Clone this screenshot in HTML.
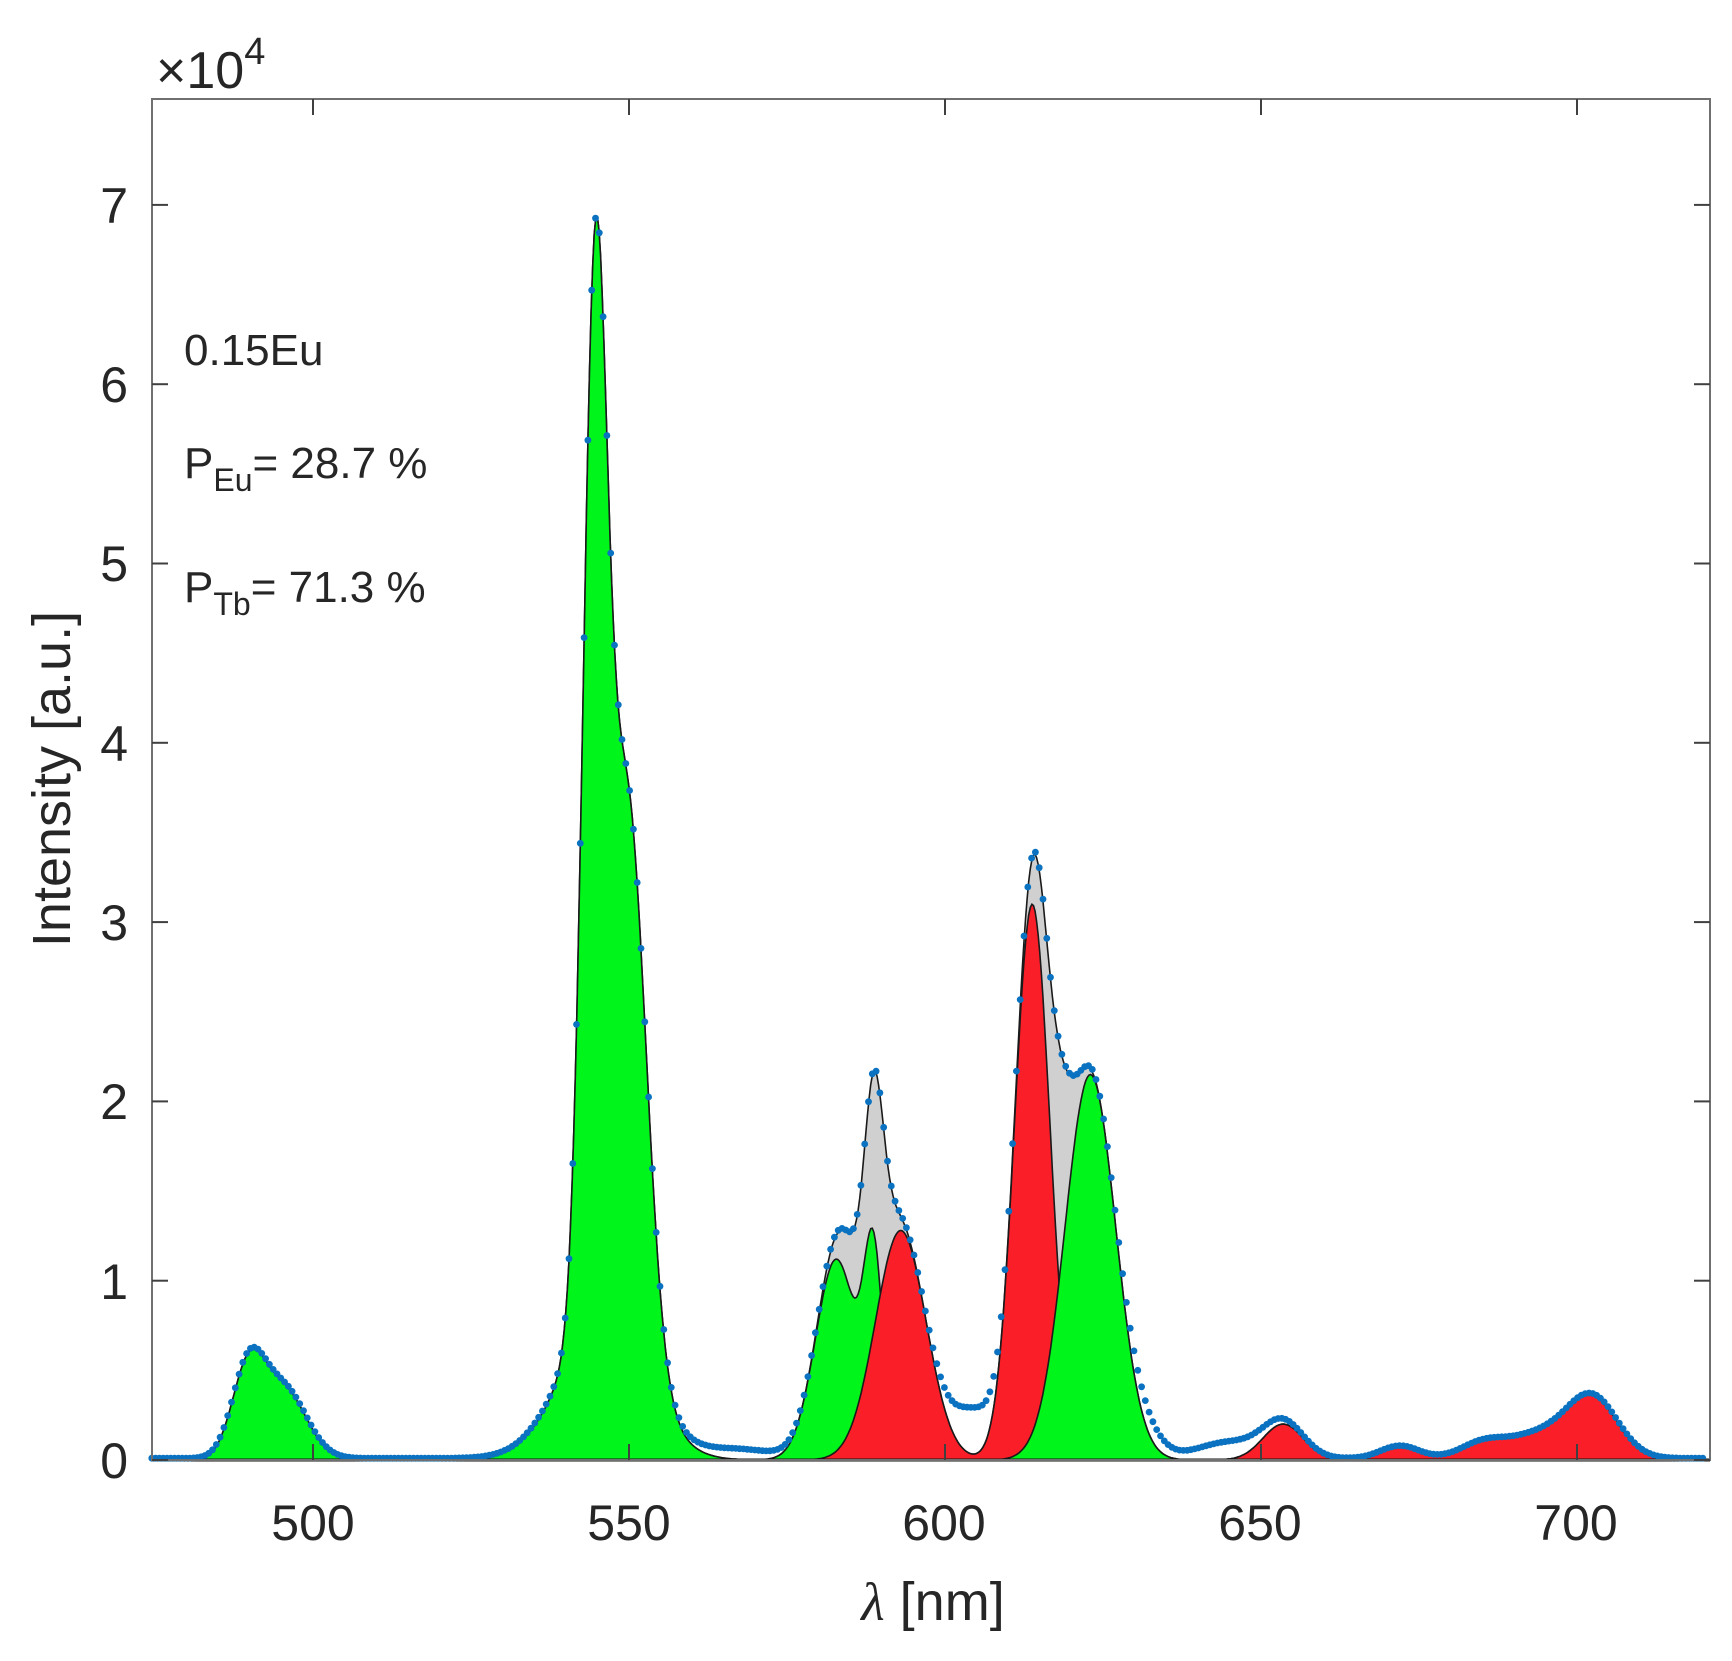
<!DOCTYPE html>
<html><head><meta charset="utf-8"><style>
html,body{margin:0;padding:0;background:#fff;}
svg{display:block;}
text{font-family:"Liberation Sans",Arial,sans-serif;fill:#262626;}
</style></head><body>
<svg id="s" width="1732" height="1661" viewBox="0 0 1732 1661" xmlns="http://www.w3.org/2000/svg">
<g id="plot"></g>
<rect x="152" y="99" width="1558" height="1361" fill="none" stroke="#707070" stroke-width="2"/>
<g id="ticks" stroke="#404040" stroke-width="2"></g>
<g font-size="50" text-anchor="end">
<text x="128" y="1478">0</text><text x="128" y="1299">1</text><text x="128" y="1119">2</text>
<text x="128" y="940">3</text><text x="128" y="761">4</text><text x="128" y="581">5</text>
<text x="128" y="402">6</text><text x="128" y="223">7</text>
</g>
<g font-size="50" text-anchor="middle">
<text x="313" y="1540">500</text><text x="629" y="1540">550</text><text x="944" y="1540">600</text>
<text x="1260" y="1540">650</text><text x="1576" y="1540">700</text>
</g>
<text x="156" y="88" font-size="52">×10<tspan font-size="38" dy="-24">4</tspan></text>
<text x="184" y="365" font-size="44">0.15Eu</text>
<text x="184" y="478" font-size="44">P<tspan font-size="32" dy="13">Eu</tspan><tspan dy="-13">= 28.7 %</tspan></text>
<text x="184" y="602" font-size="44">P<tspan font-size="32" dy="13">Tb</tspan><tspan dy="-13">= 71.3 %</tspan></text>
<text transform="translate(70,779) rotate(-90)" font-size="54" text-anchor="middle">Intensity [a.u.]</text>
<text x="933" y="1620" font-size="54" text-anchor="middle"><tspan font-style="italic" font-family="Liberation Serif,serif">λ</tspan> [nm]</text>
</svg>
<script>
var X=function(l){return 313+(l-500)*6.32;},Y=function(v){return 1460-v*179.3;};
function G(a,m,s){return function(l){return a*Math.exp(-0.5*Math.pow((l-m)/s,2));};}
var green=[G(0.5,489.8,2.6),G(0.38,495.5,3.5),G(5.5,544.6,1.9),G(3.0,549.8,2.9),G(0.8,546,6.5),
 G(1.12,582.8,3.3),G(1.05,588.7,1.5)];
var green2=[G(2.15,623,4.0)];
var red=[G(1.28,593,4.0),G(3.1,613.8,2.8),G(0.2,653.5,3.2),G(0.07,672,3),G(0.08,685,3.5),G(0.33,702.5,4),G(0.13,694,5)];
var extra=[G(0.14,589.6,2.4),G(0.12,585,2.5),G(0.1,614.5,1.5),G(0.35,618.5,1.8)];
var dext=[G(0.25,604.5,3.5),G(0.09,645,5),G(0.05,567,6),G(0.12,631,3)];
function sum(arr,l){var t=0;for(var i=0;i<arr.length;i++)t+=arr[i](l);return t;}
function area(f,col){var d="M"+X(474.5)+","+Y(0);for(var l=474.5;l<=721;l+=0.25){d+="L"+X(l).toFixed(1)+","+Y(f(l)).toFixed(1);}d+="L"+X(721)+","+Y(0)+"Z";
 return '<path d="'+d+'" fill="'+col+'" stroke="#1a1a1a" stroke-width="1.6"/>';}
var h="";
h+=area(function(l){return sum(green,l)+sum(green2,l)+sum(red,l)+sum(extra,l);},"#d0d0d0");
h+=area(function(l){return sum(green,l);},"#00f51a");
h+=area(function(l){return sum(red,l);},"#fa1e28");
h+=area(function(l){return sum(green2,l);},"#00f51a");
h+='<line x1="152" y1="1460" x2="1710" y2="1460" stroke="#111" stroke-width="3"/>';
for(var l=474.5;l<=720.5;l+=0.6){var v=sum(green,l)+sum(green2,l)+sum(red,l)+sum(extra,l)+sum(dext,l)+0.01;
 h+='<circle cx="'+X(l).toFixed(1)+'" cy="'+Y(v).toFixed(1)+'" r="3.4" fill="#0a72c0"/>';}
document.getElementById("plot").innerHTML=h;
var t="";[500,550,600,650,700].forEach(function(l){var x=X(l);t+='<line x1="'+x+'" y1="1460" x2="'+x+'" y2="1444"/><line x1="'+x+'" y1="99" x2="'+x+'" y2="115"/>';});
for(var k=0;k<=7;k++){var y=Y(k);t+='<line x1="152" y1="'+y+'" x2="168" y2="'+y+'"/><line x1="1710" y1="'+y+'" x2="1694" y2="'+y+'"/>';}
document.getElementById("ticks").innerHTML=t;
</script>
</body></html>
